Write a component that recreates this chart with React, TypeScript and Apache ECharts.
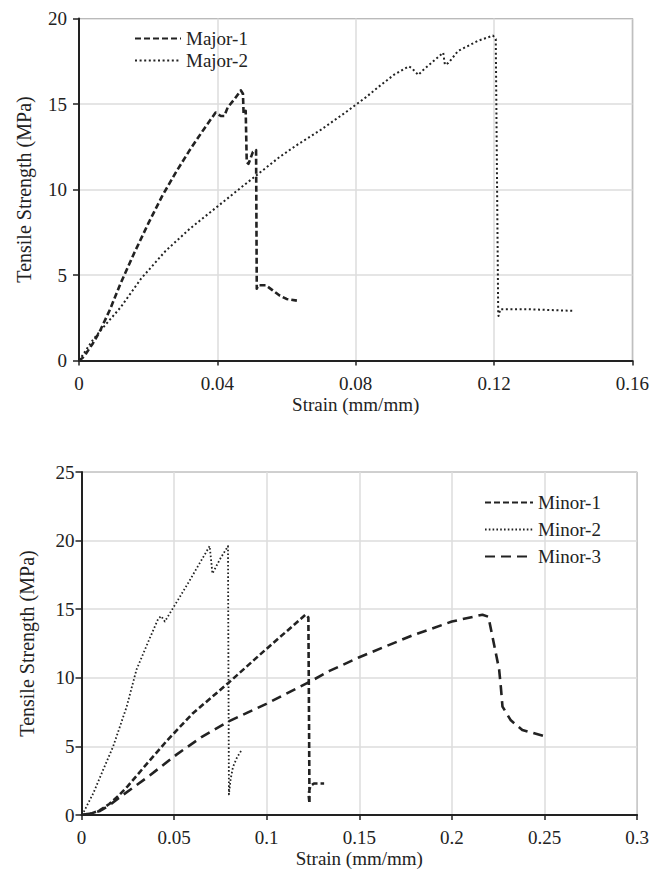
import React, { useEffect, useRef } from "react";
import * as echarts from "echarts";

const FONT = "Liberation Serif";
const INK = "#222";

// Top panel (major direction)
const majorNames = ["Major-1", "Major-2"];
const majorXTicks = { min: 0, max: 0.16, interval: 0.04 };
const majorYTicks = { min: 0, max: 20, interval: 5 };

const major1: [number, number][] = [
  [0, 0], [0.001, 0.15], [0.002, 0.4], [0.004, 1.0], [0.006, 1.7], [0.009, 3.0],
  [0.012, 4.5], [0.016, 6.3], [0.02, 8.0], [0.024, 9.6], [0.028, 11.0], [0.032, 12.3],
  [0.036, 13.5], [0.0395, 14.5], [0.041, 14.3], [0.042, 14.3], [0.043, 14.8], [0.045, 15.3],
  [0.0468, 15.8], [0.0474, 15.6], [0.0476, 14.4], [0.0482, 14.6], [0.0485, 11.6], [0.049, 11.5],
  [0.0503, 12.2], [0.0512, 12.3], [0.0514, 4.2], [0.0518, 4.4], [0.054, 4.4], [0.056, 4.1],
  [0.058, 3.8], [0.06, 3.6], [0.063, 3.5],
];

const major2: [number, number][] = [
  [0, 0], [0.002, 0.6], [0.004, 1.2], [0.006, 1.7], [0.012, 3.1], [0.018, 4.8], [0.025, 6.4],
  [0.032, 7.7], [0.04, 9.0], [0.048, 10.3], [0.053, 11.1], [0.058, 11.9], [0.063, 12.6],
  [0.07, 13.5], [0.077, 14.5], [0.083, 15.4], [0.0866, 16.0], [0.091, 16.7], [0.0953, 17.2],
  [0.0962, 17.1], [0.0981, 16.7], [0.0996, 17.0], [0.103, 17.6], [0.1053, 18.0], [0.1058, 17.3],
  [0.1068, 17.4], [0.1096, 18.1], [0.1154, 18.7], [0.1197, 19.0], [0.1205, 18.8], [0.1212, 2.9],
  [0.1213, 2.6], [0.1218, 3.0], [0.13, 3.0], [0.1432, 2.9],
];

// Bottom panel (minor direction)
const minorNames = ["Minor-1", "Minor-2", "Minor-3"];
const minorXTicks = { min: 0, max: 0.3, interval: 0.05 };
const minorYTicks = { min: 0, max: 25, interval: 5 };

const minor1: [number, number][] = [
  [0, 0], [0.005, 0.1], [0.01, 0.35], [0.015, 0.8], [0.02, 1.4], [0.025, 2.1], [0.03, 2.9],
  [0.037, 4.0], [0.046, 5.4], [0.06, 7.4], [0.0791, 9.6], [0.0998, 12.1], [0.11, 13.3],
  [0.121, 14.6], [0.1225, 14.4], [0.1228, 8.0], [0.1231, 0.85], [0.1226, 1.5], [0.1235, 2.1],
  [0.1255, 2.3], [0.131, 2.3],
];

const minor2: [number, number][] = [
  [0, 0], [0.0015, 0.3], [0.0064, 1.6], [0.0117, 3.3], [0.0171, 5.0], [0.0244, 7.9],
  [0.0297, 10.6], [0.0369, 12.9], [0.0414, 14.3], [0.043, 14.5], [0.045, 14.1], [0.0468, 14.5],
  [0.0522, 15.7], [0.058, 17.0], [0.064, 18.4], [0.0692, 19.6], [0.0707, 17.6], [0.075, 18.7],
  [0.0791, 19.6], [0.0793, 12.0], [0.0796, 1.5], [0.0805, 2.6], [0.0818, 3.5], [0.084, 4.2],
  [0.0863, 4.7],
];

const minor3: [number, number][] = [
  [0, 0], [0.005, 0.1], [0.01, 0.3], [0.015, 0.7], [0.0207, 1.3], [0.03, 2.2], [0.037, 2.9],
  [0.0513, 4.4], [0.065, 5.7], [0.0791, 6.8], [0.0998, 8.1], [0.1231, 9.7], [0.1339, 10.5],
  [0.15, 11.5], [0.1788, 13.1], [0.2, 14.1], [0.2165, 14.6], [0.2197, 14.45], [0.2219, 13.0],
  [0.2237, 11.8], [0.2255, 10.6], [0.2264, 9.35], [0.2273, 7.9], [0.2318, 6.9], [0.238, 6.2],
  [0.2497, 5.75],
];

const xTitle = "Strain (mm/mm)";
const yTitle = "Tensile Strength (MPa)";

const fmt = (v: number) => (v === 0 ? "0" : String(parseFloat(v.toFixed(3))));

function xAxisFor(gridIndex: number, t: { min: number; max: number; interval: number }) {
  return {
    type: "value",
    gridIndex,
    min: t.min,
    max: t.max,
    interval: t.interval,
    name: xTitle,
    nameLocation: "middle",
    nameGap: 34,
    nameTextStyle: { fontFamily: FONT, fontSize: 19, color: INK },
    axisLine: { show: true, onZero: false, lineStyle: { color: INK, width: 2 } },
    axisTick: { show: true, length: 5, lineStyle: { color: INK, width: 1.5 } },
    splitLine: { show: true, lineStyle: { color: "#dddddd", width: 1.5 } },
    axisLabel: { fontFamily: FONT, fontSize: 19, color: INK, margin: 13, formatter: fmt },
  };
}

function yAxisFor(gridIndex: number, t: { min: number; max: number; interval: number }, labelMargin: number) {
  return {
    type: "value",
    gridIndex,
    min: t.min,
    max: t.max,
    interval: t.interval,
    name: yTitle,
    nameLocation: "middle",
    nameGap: 45,
    nameTextStyle: { fontFamily: FONT, fontSize: 20, color: INK },
    axisLine: { show: true, onZero: false, lineStyle: { color: INK, width: 2 } },
    axisTick: { show: true, length: 6, lineStyle: { color: INK, width: 1.5 } },
    splitLine: { show: true, lineStyle: { color: "#dddddd", width: 1.5 } },
    axisLabel: { fontFamily: FONT, fontSize: 19, color: INK, margin: labelMargin, formatter: fmt },
  };
}

function lineSeries(name: string, data: [number, number][], idx: number, dash: number[], width: number) {
  return {
    type: "line",
    name,
    data,
    xAxisIndex: idx,
    yAxisIndex: idx,
    symbol: "none",
    showSymbol: false,
    smooth: false,
    lineStyle: { color: INK, width, type: dash, cap: "butt", join: "round" },
    itemStyle: { color: INK },
  };
}

export default function App() {
  const ref = useRef<HTMLDivElement>(null);
  useEffect(() => {
    if (!ref.current) return;
    const chart = echarts.init(ref.current, undefined, { renderer: "svg" });
    chart.setOption({
      animation: false,
      backgroundColor: "#ffffff",
      textStyle: { fontFamily: FONT },
      grid: [
        { left: 79, top: 18.5, width: 555, height: 342, show: true, borderColor: "#555", borderWidth: 1, backgroundColor: "transparent" },
        { left: 81.5, top: 472, width: 557, height: 343, show: true, borderColor: "#555", borderWidth: 1, backgroundColor: "transparent" },
      ],
      legend: [
        {
          data: majorNames,
          orient: "vertical",
          left: 134,
          top: 29,
          padding: 0,
          itemWidth: 46,
          itemHeight: 14,
          itemGap: 3,
          itemStyle: { opacity: 0 },
          textStyle: { fontFamily: FONT, fontSize: 19, color: INK },
        },
        {
          data: minorNames,
          orient: "vertical",
          left: 484,
          top: 493,
          padding: 0,
          itemWidth: 48,
          itemHeight: 14,
          itemGap: 8,
          itemStyle: { opacity: 0 },
          textStyle: { fontFamily: FONT, fontSize: 19, color: INK },
        },
      ],
      xAxis: [xAxisFor(0, majorXTicks), xAxisFor(1, minorXTicks)],
      yAxis: [yAxisFor(0, majorYTicks, 12), yAxisFor(1, minorYTicks, 7)],
      series: [
        lineSeries(majorNames[0], major1, 0, [6, 3], 2.6),
        lineSeries(majorNames[1], major2, 0, [2, 2.6], 2),
        lineSeries(minorNames[0], minor1, 1, [6, 3], 2.6),
        lineSeries(minorNames[1], minor2, 1, [1.6, 2.2], 1.8),
        lineSeries(minorNames[2], minor3, 1, [10, 6], 2.6),
      ],
    });
    return () => chart.dispose();
  }, []);
  return (
    <div
      ref={ref}
      style={{ position: "fixed", left: 0, top: 0, width: 652, height: 880, background: "#fff", fontFamily: FONT }}
    />
  );
}
